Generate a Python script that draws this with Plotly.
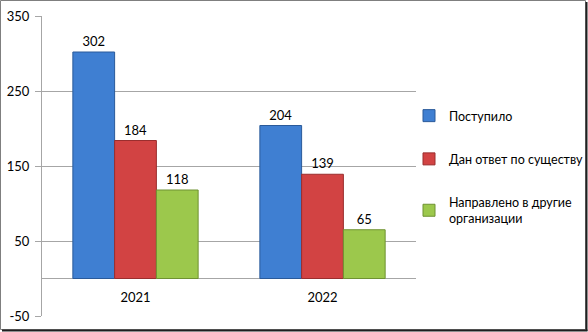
import plotly.graph_objects as go

categories = ["2021", "2022"]
series_names = ["Поступило", "Дан ответ по существу", "Направлено в другие<br>организации"]
received = [302, 204]
answered = [184, 139]
redirected = [118, 65]
y_ticks = [-50, 50, 150, 250, 350]
y_tick_text = ["-50", "50", "150", "250", "350"]

colors = ["#3f7fd2", "#d24343", "#9cc84c"]
edges = ["#2a5a9a", "#9a2e2e", "#6f9232"]
values = [received, answered, redirected]

W, H = 588, 332
L, R, T, B = 42, 172, 16, 16
pw, ph = W - L - R, H - T - B

fig = go.Figure()
for i, (name, vals) in enumerate(zip(series_names, values)):
    fig.add_trace(go.Bar(
        x=categories, y=vals, name=name,
        marker=dict(color=colors[i], line=dict(color=edges[i], width=1)),
        text=[str(v) for v in vals], textposition="outside",
        textfont=dict(size=13, color="#000000", family="Lato"),
        cliponaxis=False, legendgroup=str(i),
    ))

def px_x(p):
    return (p - L) / pw

def px_y(p):
    return (H - B - p) / ph

shapes = [
    dict(type="rect", xref="paper", yref="paper",
         x0=px_x(0.5), x1=px_x(585.5), y0=px_y(329.5), y1=px_y(0.5),
         line=dict(color="#7f7f7f", width=1), layer="below"),
    dict(type="line", xref="paper", yref="paper",
         x0=px_x(586.5), x1=px_x(586.5), y0=px_y(331), y1=px_y(2),
         line=dict(color="#202020", width=2)),
    dict(type="line", xref="paper", yref="paper",
         x0=px_x(2), x1=px_x(587.5), y0=px_y(330.5), y1=px_y(330.5),
         line=dict(color="#202020", width=2)),
]

fig.update_layout(
    width=W, height=H,
    margin=dict(l=L, r=R, t=T, b=B, autoexpand=False),
    paper_bgcolor="white", plot_bgcolor="white",
    barmode="group", bargap=0.33, bargroupgap=0,
    font=dict(family="Lato", size=13, color="#000000"),
    showlegend=True,
    legend=dict(x=px_x(409), xanchor="left", y=px_y(167), yanchor="middle",
                font=dict(size=12.5, family="Lato"), tracegroupgap=24,
                traceorder="grouped", itemwidth=30, bgcolor="rgba(0,0,0,0)"),
    shapes=shapes,
    xaxis=dict(type="category", categoryorder="array", categoryarray=categories,
               anchor="free", position=(0 - y_ticks[0]) / (y_ticks[-1] - y_ticks[0]),
               showline=False, showgrid=False, ticks="", tickfont=dict(size=13),
               ticklabelstandoff=9, fixedrange=True),
    yaxis=dict(range=[y_ticks[0], y_ticks[-1]], tickvals=y_ticks, ticktext=y_tick_text,
               showgrid=True, gridcolor="#a6a6a6", gridwidth=1,
               zeroline=True, zerolinecolor="#a6a6a6", zerolinewidth=1,
               showline=True, linecolor="#a6a6a6", linewidth=1,
               ticks="outside", ticklen=6, tickcolor="#a6a6a6",
               ticklabelstandoff=3, tickfont=dict(size=13), fixedrange=True),
)

fig.write_html("out.html")
